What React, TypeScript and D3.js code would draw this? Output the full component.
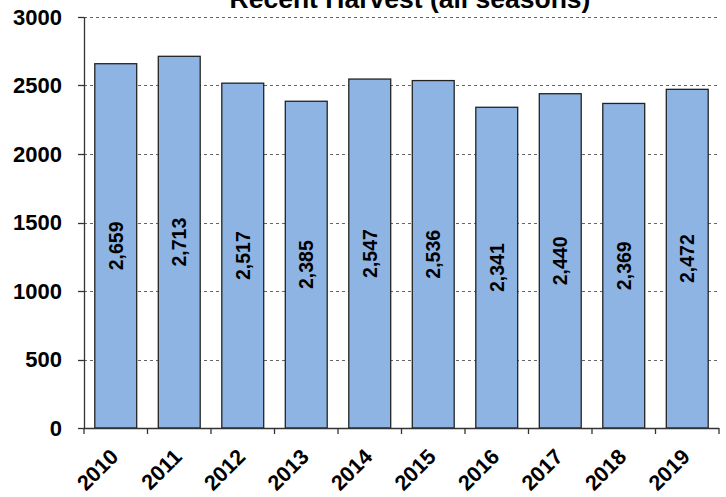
import React, { useRef, useEffect } from "react";
import * as d3 from "d3";

const years = ["2010", "2011", "2012", "2013", "2014", "2015", "2016", "2017", "2018", "2019"];
const harvest = [2659, 2713, 2517, 2385, 2547, 2536, 2341, 2440, 2369, 2472];
const yTicks = [0, 500, 1000, 1500, 2000, 2500, 3000];
const title = "Recent Harvest (all seasons)";

function App() {
  const ref = useRef<SVGSVGElement | null>(null);

  useEffect(() => {
    const width = 726,
      height = 497;
    const plot = { left: 84, right: 719, top: 17, bottom: 428 };

    const svg = d3.select(ref.current);
    svg.selectAll("*").remove();

    const x = d3
      .scaleBand<string>()
      .domain(years)
      .range([plot.left, plot.right])
      .paddingInner(0.34)
      .paddingOuter(0.17);

    const y = d3.scaleLinear().domain([0, 3000]).range([plot.bottom, plot.top]);

    svg.attr("width", width).attr("height", height);

    // dashed gridlines
    svg
      .append("g")
      .selectAll("line")
      .data(yTicks.filter((d) => d > 0))
      .join("line")
      .attr("x1", plot.left)
      .attr("x2", plot.right)
      .attr("y1", (d) => Math.round(y(d)) + 0.5)
      .attr("y2", (d) => Math.round(y(d)) + 0.5)
      .attr("stroke", "#666")
      .attr("stroke-width", 1)
      .attr("stroke-dasharray", "3,3");

    // bars
    svg
      .append("g")
      .selectAll("rect")
      .data(harvest)
      .join("rect")
      .attr("x", (d, i) => x(years[i])!)
      .attr("y", (d) => y(d))
      .attr("width", x.bandwidth())
      .attr("height", (d) => y(0) - y(d))
      .attr("fill", "#8EB4E3")
      .attr("stroke", "#222")
      .attr("stroke-width", 1.3);

    // value labels inside bars
    svg
      .append("g")
      .selectAll("text")
      .data(harvest)
      .join("text")
      .attr(
        "transform",
        (d, i) =>
          "translate(" + (x(years[i])! + x.bandwidth() / 2) + "," + (y(d) + y(0)) / 2 + ") rotate(-90)"
      )
      .attr("text-anchor", "middle")
      .attr("dy", "0.36em")
      .style("font-family", "Liberation Sans, Arial, sans-serif")
      .style("font-weight", "bold")
      .style("font-size", "19.5px")
      .attr("fill", "#000")
      .text((d) => d3.format(",")(d));

    // y axis
    const yAxis = svg.append("g");
    yAxis
      .append("line")
      .attr("x1", plot.left + 0.5)
      .attr("x2", plot.left + 0.5)
      .attr("y1", plot.top)
      .attr("y2", plot.bottom)
      .attr("stroke", "#333")
      .attr("stroke-width", 1.3);
    yAxis
      .selectAll("line.tick")
      .data(yTicks)
      .join("line")
      .attr("class", "tick")
      .attr("x1", plot.left - 6)
      .attr("x2", plot.left)
      .attr("y1", (d) => Math.round(y(d)) + 0.5)
      .attr("y2", (d) => Math.round(y(d)) + 0.5)
      .attr("stroke", "#333")
      .attr("stroke-width", 1.3);
    yAxis
      .selectAll("text")
      .data(yTicks)
      .join("text")
      .attr("x", 62)
      .attr("y", (d) => y(d))
      .attr("dy", "0.36em")
      .attr("text-anchor", "end")
      .style("font-family", "Liberation Sans, Arial, sans-serif")
      .style("font-weight", "bold")
      .style("font-size", "22px")
      .text((d) => d);

    // x axis, ticks between categories
    const step = x.step();
    const gap = step - x.bandwidth();
    const xTicks = years.map((d) => x(d)! - gap / 2).concat([plot.right]);
    const xAxis = svg.append("g");
    xAxis
      .append("line")
      .attr("x1", plot.left)
      .attr("x2", plot.right)
      .attr("y1", plot.bottom + 0.5)
      .attr("y2", plot.bottom + 0.5)
      .attr("stroke", "#333")
      .attr("stroke-width", 1.3);
    xAxis
      .selectAll("line.tick")
      .data(xTicks)
      .join("line")
      .attr("class", "tick")
      .attr("x1", (d) => d)
      .attr("x2", (d) => d)
      .attr("y1", plot.bottom)
      .attr("y2", plot.bottom + 6)
      .attr("stroke", "#333")
      .attr("stroke-width", 1.3);
    xAxis
      .selectAll("text")
      .data(years)
      .join("text")
      .attr("transform", (d) => "translate(" + (x(d)! + x.bandwidth() / 2 + 4) + "," + 458 + ") rotate(-45)")
      .attr("text-anchor", "end")
      .style("font-family", "Liberation Sans, Arial, sans-serif")
      .style("font-weight", "bold")
      .style("font-size", "21.5px")
      .text((d) => d);

    // title (cut off at the top)
    svg
      .append("text")
      .attr("x", 410)
      .attr("y", 8)
      .attr("text-anchor", "middle")
      .style("font-family", "Liberation Sans, Arial, sans-serif")
      .style("font-weight", "bold")
      .style("font-size", "26.5px")
      .text(title);
  }, []);

  return (
    <div style={{ position: "absolute", left: 0, top: 0, width: 726, height: 497, background: "#fff" }}>
      <svg ref={ref} style={{ display: "block" }}></svg>
    </div>
  );
}

export default App;
